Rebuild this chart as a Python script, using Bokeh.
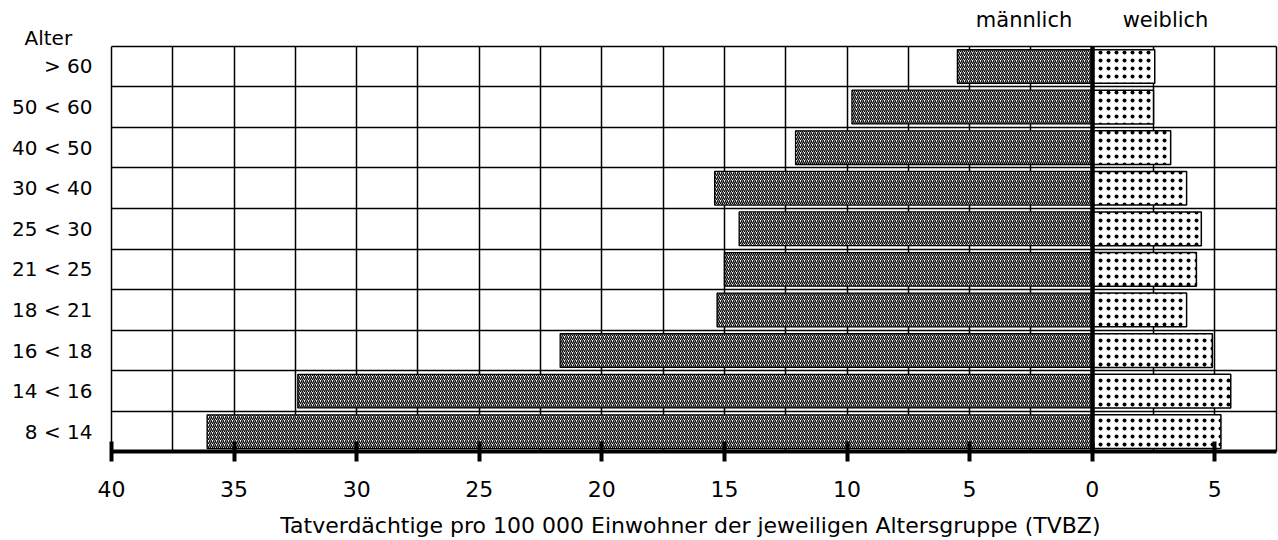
from bokeh.plotting import figure
from bokeh.models import Range1d, FixedTicker, Label, ColumnDataSource, Grid
from bokeh.embed import file_html
from bokeh.resources import INLINE

# ---- data (bottom row first) ----
age_groups = ["8 < 14", "14 < 16", "16 < 18", "18 < 21", "21 < 25",
              "25 < 30", "30 < 40", "40 < 50", "50 < 60", "> 60"]
male = [36.1, 32.4, 21.7, 15.3, 15.0, 14.4, 15.4, 12.1, 9.8, 5.5]
female = [5.25, 5.65, 4.9, 3.85, 4.25, 4.45, 3.85, 3.2, 2.5, 2.55]

x_tick_values = [-40, -35, -30, -25, -20, -15, -10, -5, 0, 5]
x_tick_labels = ["40", "35", "30", "25", "20", "15", "10", "5", "0", "5"]

x_title = "Tatverdächtige pro 100 000 Einwohner der jeweiligen Altersgruppe (TVBZ)"
y_title = "Alter"
male_label = "männlich"
female_label = "weiblich"

FONT = "DejaVu Sans"

# chart box in data units
X0, X1 = -40, 7.5
Y0, Y1 = 0, 10

ypos = [i + 0.5 for i in range(len(age_groups))]
src = ColumnDataSource(dict(
    y=ypos,
    mleft=[-v for v in male],
    zero=[0] * len(male),
    fright=female,
))

p = figure(width=1278, height=540, output_backend="svg", toolbar_location=None,
           title=None,
           x_range=Range1d(-44.527, 7.598), y_range=Range1d(-2.181, 11.126),
           min_border=0)

p.background_fill_color = "white"
p.border_fill_color = "white"
p.outline_line_color = None

# grid (bounded to the chart box)
p.xgrid.ticker = FixedTicker(ticks=[X0 + 2.5 * i for i in range(20)])
p.xgrid.cross_bounds = (Y0, Y1)
p.ygrid.ticker = FixedTicker(ticks=list(range(1, 11)))
p.ygrid.cross_bounds = (X0, X1)
for g in (p.xgrid, p.ygrid):
    g.grid_line_color = "black"
    g.grid_line_width = 1.5
    g.grid_line_alpha = 1.0

# bars
p.hbar(y="y", left="mleft", right="zero", height=0.83, source=src,
       fill_color="white", line_color="black", line_width=1.3,
       hatch_pattern="/", hatch_scale=4, hatch_weight=1.3, hatch_color="black")
p.hbar(y="y", left="zero", right="fright", height=0.83, source=src,
       fill_color="white", line_color="black", line_width=1.5,
       hatch_pattern="dot", hatch_scale=8, hatch_weight=1.5, hatch_color="black")

# thick zero line
zero_grid = Grid(dimension=0, ticker=FixedTicker(ticks=[0]), cross_bounds=(Y0, Y1),
                 grid_line_color="black", grid_line_width=4.5, level="overlay")
p.add_layout(zero_grid)

# x axis (at y = 0)
xa = p.xaxis[0]
xa.fixed_location = Y0
xa.bounds = (X0, X1)
xa.ticker = FixedTicker(ticks=x_tick_values)
xa.major_label_overrides = {v: l for v, l in zip(x_tick_values, x_tick_labels)}
xa.axis_line_width = 4
xa.axis_line_color = "black"
xa.major_tick_line_width = 4
xa.major_tick_line_color = "black"
xa.major_tick_in = 10
xa.major_tick_out = 10
xa.minor_tick_line_color = None
xa.major_label_standoff = 19
xa.major_label_text_font = FONT
xa.major_label_text_font_size = "22px"
xa.major_label_text_color = "black"

# y axis (at x = -40)
ya = p.yaxis[0]
ya.fixed_location = X0
ya.bounds = (Y0, Y1)
ya.ticker = FixedTicker(ticks=ypos)
ya.major_label_overrides = {y: l for y, l in zip(ypos, age_groups)}
ya.axis_line_color = None
ya.major_tick_line_color = None
ya.minor_tick_line_color = None
ya.major_tick_in = 0
ya.major_tick_out = 0
ya.major_label_standoff = 19
ya.major_label_text_font = FONT
ya.major_label_text_font_size = "20px"
ya.major_label_text_color = "black"

# texts
p.add_layout(Label(x=X0, y=Y1, x_offset=-87, y_offset=8, text=y_title,
                   text_font=FONT, text_font_size="20px", text_color="black",
                   text_align="left", text_baseline="alphabetic"))
p.add_layout(Label(x=-2.78, y=Y1, y_offset=26, text=male_label,
                   text_font=FONT, text_font_size="21px", text_color="black",
                   text_align="center", text_baseline="alphabetic"))
p.add_layout(Label(x=2.99, y=Y1, y_offset=26, text=female_label,
                   text_font=FONT, text_font_size="21px", text_color="black",
                   text_align="center", text_baseline="alphabetic"))
p.add_layout(Label(x=-16.39, y=Y0, y_offset=-74, text=x_title,
                   text_font=FONT, text_font_size="22px", text_color="black",
                   text_align="center", text_baseline="alphabetic"))

open("out.html", "w").write(file_html(p, INLINE))
